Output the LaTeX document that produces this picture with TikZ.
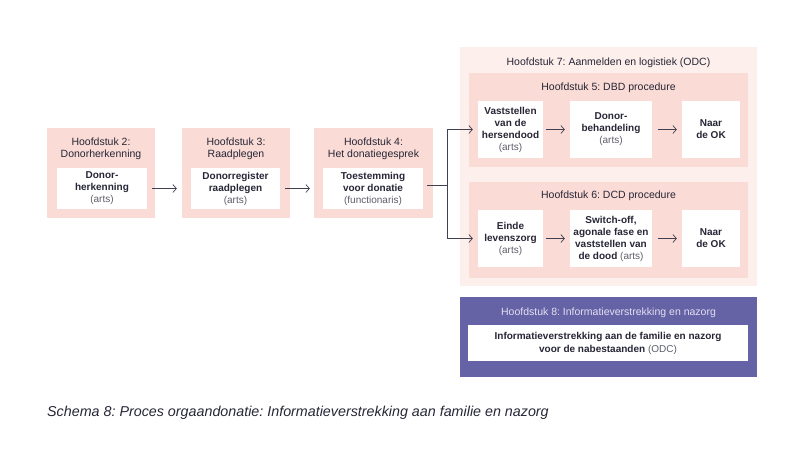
\documentclass[tikz,border=0pt]{standalone}
\usepackage{fontspec}
\setmainfont{Liberation Sans}
\usetikzlibrary{arrows.meta,fit}
\frenchspacing
\definecolor{pinkA}{HTML}{FADBD6}
\definecolor{pinkB}{HTML}{FDEFEB}
\definecolor{purp}{HTML}{6662A6}
\definecolor{ink}{HTML}{262636}
\definecolor{soft}{HTML}{5E5E6A}
\definecolor{arrc}{HTML}{404050}
\definecolor{ltxt}{HTML}{E2E0F2}
\newcommand{\sub}[1]{{\mdseries\color{soft}#1}}
\begin{document}
\begin{tikzpicture}[x=1pt,y=-1pt,
  chap/.style={fill=pinkA,draw=none,inner sep=0pt},
  outerchap/.style={fill=pinkB,draw=none,inner sep=0pt},
  darkchap/.style={fill=purp,draw=none,inner sep=0pt},
  card/.style={fill=white,draw=none,inner sep=0pt,align=center,text=ink,
    font=\fontsize{10}{12}\selectfont\bfseries},
  ttl/.style={inner sep=0pt,align=center,text=ink,font=\fontsize{10.5}{12}\selectfont},
  arr/.style={draw=arrc,line width=0.7pt,-{Straight Barb[length=3.5pt,width=8pt]}},
  conn/.style={draw=arrc,line width=0.7pt}]
\useasboundingbox (0,0) rectangle (805,474);
% chapter 2-4
\node[chap,fit={(47,128) (155,218)}] (c2) {};
\node[chap,fit={(182,128) (290,218)}] (c3) {};
\node[chap,fit={(314,128) (433,218)}] (c4) {};
\node[ttl] (t2) at (101,149) {Hoofdstuk 2:\\Donorherkenning};
\node[ttl] (t3) at (236,149) {Hoofdstuk 3:\\Raadplegen};
\node[ttl] (t4) at (373.5,149) {Hoofdstuk 4:\\Het donatiegesprek};
\node[card,fit={(57,168) (147,209)}] (k2) {};
\node[card] (k2t) at (k2.center) {Donor-\\herkenning\\\sub{(arts)}};
\node[card,fit={(191,168) (280,209)}] (k3) {};
\node[card] (k3t) at (k3.center) {Donorregister\\raadplegen\\\sub{(arts)}};
\node[card,fit={(323,168) (423,209)}] (k4) {};
\node[card] (k4t) at (k4.center) {Toestemming\\voor donatie\\\sub{(functionaris)}};
% chapter 7 with 5 and 6
\node[outerchap,fit={(460,47) (757,286)}] (c7) {};
\node[ttl] (t7) at (608.5,63) {Hoofdstuk 7: Aanmelden en logistiek (ODC)};
\node[chap,fit={(469,73) (748,167)}] (c5) {};
\node[ttl] (t5) at (608.5,88) {Hoofdstuk 5: DBD procedure};
\node[chap,fit={(469,182) (748,278)}] (c6) {};
\node[ttl] (t6) at (608.5,196) {Hoofdstuk 6: DCD procedure};
\node[card,fit={(478,101) (543,158)}] (b1) {};
\node[card] (b1t) at (b1.center) {Vaststellen\\van de\\hersendood\\\sub{(arts)}};
\node[card,fit={(570,101) (652,158)}] (b2) {};
\node[card] (b2t) at (b2.center) {Donor-\\behandeling\\\sub{(arts)}};
\node[card,fit={(682,101) (740,158)}] (b3) {};
\node[card] (b3t) at (b3.center) {Naar\\de OK};
\node[card,fit={(478,210) (543,267)}] (d1) {};
\node[card] (d1t) at (d1.center) {Einde\\levenszorg\\\sub{(arts)}};
\node[card,fit={(570,210) (652,267)}] (d2) {};
\node[card] (d2t) at (d2.center) {Switch-off,\\agonale fase en\\vaststellen van\\de dood \sub{(arts)}};
\node[card,fit={(682,210) (740,267)}] (d3) {};
\node[card] (d3t) at (d3.center) {Naar\\de OK};
% chapter 8
\node[darkchap,fit={(460,297) (757,377)}] (c8) {};
\node[ttl,text=ltxt] (t8) at (608.5,313) {Hoofdstuk 8: Informatieverstrekking en nazorg};
\node[card,fit={(468,325) (748,361)}] (k8) {};
\node[card,font=\fontsize{10}{13}\selectfont\bfseries] (k8t) at (k8.center) {Informatieverstrekking aan de familie en nazorg\\voor de nabestaanden \sub{(ODC)}};
% caption
\node[anchor=west,inner sep=0pt,text=ink,font=\fontsize{14.3}{16}\selectfont\itshape] (cap) at (47,413) {Schema 8: Proces orgaandonatie: Informatieverstrekking aan familie en nazorg};
% connectors
\draw[arr,shorten <=5pt,shorten >=14pt] (k2.east) -- (k3.west);
\draw[arr,shorten <=5pt,shorten >=13pt] (k3.east) -- (k4.west);
\coordinate (j) at (447,185);
\draw[conn,shorten <=4pt] (k4.east |- j) -- (j);
\draw[arr,shorten >=5pt] (j) |- (b1.west);
\draw[arr,shorten >=5pt] (j) |- (d1.west);
\draw[arr,shorten <=3pt,shorten >=5pt] (b1) -- (b2);
\draw[arr,shorten <=6pt,shorten >=5pt] (b2) -- (b3);
\draw[arr,shorten <=3pt,shorten >=5pt] (d1) -- (d2);
\draw[arr,shorten <=6pt,shorten >=5pt] (d2) -- (d3);
\end{tikzpicture}
\end{document}
